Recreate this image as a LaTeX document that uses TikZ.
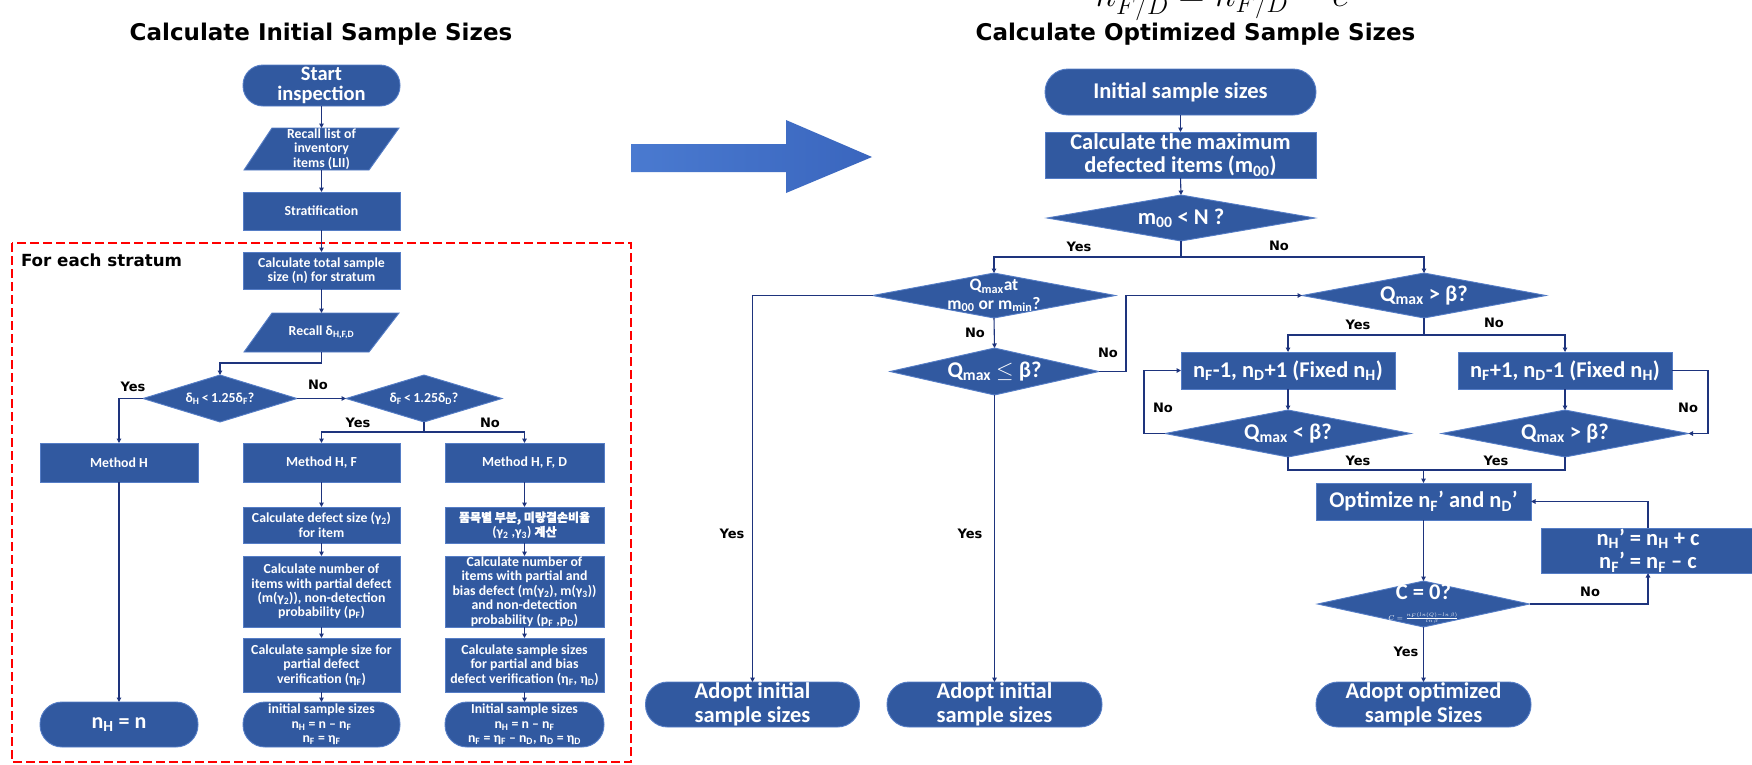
\RequirePackage{fix-cm}
\documentclass[tikz,border=0pt]{standalone}
\usepackage{fontspec}
\setmainfont{Carlito}
\newfontfamily\labfont{DejaVu Sans}
\newfontfamily\krfont[FakeBold=1.5]{Noto Sans CJK KR}
\usetikzlibrary{arrows.meta,shapes.geometric,calc}
\pgfdeclarelayer{bg}
\pgfsetlayers{bg,main}
\definecolor{boxfill}{RGB}{49,89,160}
\definecolor{boxedge}{RGB}{85,125,198}
\definecolor{conncol}{RGB}{30,52,125}
\definecolor{bigA}{RGB}{74,122,208}
\definecolor{bigB}{RGB}{58,102,190}
\newcommand{\sbs}[1]{\textsubscript{#1}}
\begin{document}
\begin{tikzpicture}[x=1pt,y=-1pt,
  every node/.style={inner sep=0pt, outer sep=0pt},
  base/.style={fill=boxfill, draw=boxedge, line width=0.9pt, text=white, align=center},
  proc/.style={base, rectangle},
  term/.style={base, rectangle, rounded corners=#1},
  term/.default=22pt,
  dec/.style={base, diamond},
  wtxt/.style={text=white, align=center},
  ptxt/.style={text=white, align=center, rectangle},
  connl/.style={draw=conncol, line width=1.1pt},
  arr/.style={connl, -{Triangle[width=4.5pt,length=4.5pt]}},
  lbl/.style={font=\labfont\bfseries\fontsize{13}{13}\selectfont, text=black},
  ttl/.style={font=\labfont\bfseries\fontsize{23}{23}\selectfont, text=black},
  fs/.style={font=\bfseries\fontsize{13.8}{14.4}\selectfont},
  fm/.style={font=\bfseries\fontsize{17.5}{18.7}\selectfont},
  fl/.style={font=\bfseries\fontsize{22.5}{23.5}\selectfont},
  parafill/.style={fill=boxfill, draw=boxedge, line width=0.9pt},
]
\useasboundingbox (0,0) rectangle (1752,764);

% ---------- left chart ----------
\node[ttl] (t1) at (321,34) {Calculate Initial Sample Sizes};
\draw[red, line width=2.4pt, dash pattern=on 9pt off 4pt] (12,243) rectangle (631,762);
\node[font=\labfont\bfseries\fontsize{16.7}{16.7}\selectfont, anchor=west] (fes) at (21,260) {For each stratum};

\node[term=20pt, minimum width=157pt, minimum height=41pt, font=\bfseries\fontsize{20.5}{20}\selectfont] (start) at (321.5,85.5) {Start\\inspection};
\node[ptxt, minimum width=155pt, minimum height=42pt, fs] (p1) at (321.5,149) {Recall list of\\inventory\\items (LII)};
\node[proc, minimum width=157pt, minimum height=38pt, fs] (strat) at (321.5,211) {Stratification};
\node[proc, minimum width=157pt, minimum height=37pt, fs] (calcn) at (321.5,270.5) {Calculate total sample\\size (n) for stratum};
\node[ptxt, minimum width=155pt, minimum height=39pt, fs] (p2) at (321.5,332.5) {Recall δ\sbs{H,F,D}};
\begin{pgfonlayer}{bg}
\fill[white] (0,0) rectangle (1752,764);
\path[parafill] (p1.south west) -- ($(p1.north west)+(28,0)$) -- (p1.north east) -- ($(p1.south east)+(-30,0)$) -- cycle;
\path[parafill] (p2.south west) -- ($(p2.north west)+(28,0)$) -- (p2.north east) -- ($(p2.south east)+(-30,0)$) -- cycle;
\end{pgfonlayer}
\node[dec, minimum width=154pt, minimum height=47pt, label={[wtxt,fs]center:{δ\sbs{H}\,<\,1.25δ\sbs{F}?}}] (d1) at (220,398.5) {};
\node[dec, minimum width=156pt, minimum height=47pt, label={[wtxt,fs]center:{δ\sbs{F}\,<\,1.25δ\sbs{D}?}}] (d2) at (424,398.5) {};

\node[proc, minimum width=158pt, minimum height=39pt, fs] (mH) at (119,462.5) {Method H};
\node[proc, minimum width=157pt, minimum height=39pt, fs] (mHF) at (321.5,462.5) {Method H, F};
\node[proc, minimum width=159pt, minimum height=39pt, fs] (mHFD) at (524.5,462.5) {Method H, F, D};

\node[proc, minimum width=157pt, minimum height=36pt, fs] (defF) at (321.5,525) {Calculate defect size (γ\sbs{2})\\for item};
\node[proc, minimum width=159pt, minimum height=36pt, fs] (defFD) at (524.5,525) {{\krfont\fontsize{12}{14.4}\selectfont 품목별 부분, 미량결손비율}\\(γ\sbs{2} ,γ\sbs{3}) {\krfont\fontsize{12}{14.4}\selectfont 계산}};
\node[proc, minimum width=157pt, minimum height=71pt, fs] (numF) at (321.5,591.5) {Calculate number of\\items with partial defect\\(m(γ\sbs{2})), non-detection\\probability (p\sbs{F})};
\node[proc, minimum width=159pt, minimum height=71pt, fs] (numFD) at (524.5,591.5) {Calculate number of\\items with partial and\\bias defect (m(γ\sbs{2}), m(γ\sbs{3}))\\and non-detection\\probability (p\sbs{F} ,p\sbs{D})};
\node[proc, minimum width=157pt, minimum height=54pt, fs] (ssF) at (321.5,665) {Calculate sample size for\\partial defect\\verification (η\sbs{F})};
\node[proc, minimum width=159pt, minimum height=54pt, fs] (ssFD) at (524.5,665) {Calculate sample sizes\\for partial and bias\\defect verification (η\sbs{F}, η\sbs{D})};
\node[term, minimum width=158pt, minimum height=45pt, font=\bfseries\fontsize{22}{22}\selectfont] (tH) at (119,724.5) {n\sbs{H} = n};
\node[term, minimum width=157pt, minimum height=45pt, fs] (tF) at (321.5,724.5) {initial sample sizes\\n\sbs{H} = n – n\sbs{F}\\n\sbs{F} = η\sbs{F}};
\node[term, minimum width=159pt, minimum height=45pt, fs] (tFD) at (524.5,724.5) {Initial sample sizes\\n\sbs{H} = n – n\sbs{F}\\n\sbs{F} = η\sbs{F} – n\sbs{D}, n\sbs{D} = η\sbs{D}};

\draw[arr] (start.south) -- (p1.north);
\draw[arr] (p1.south) -- (strat.north);
\draw[arr] (strat.south) -- (calcn.north);
\draw[arr] (calcn.south) -- (p2.north);
\draw[arr] (p2.south) -- ++(0,11) -| (d1.north);
\draw[arr] (d1.east) -- (d2.west);
\draw[arr] (d1.west) -| (mH.north);
\draw[connl] (d2.south) -- ++(0,10) coordinate (j1);
\draw[arr] (j1) -| (mHF.north);
\draw[arr] (j1) -| (mHFD.north);
\draw[arr] (mH.south) -- (tH.north);
\draw[arr] (mHF.south) -- (defF.north);
\draw[arr] (defF.south) -- (numF.north);
\draw[arr] (numF.south) -- (ssF.north);
\draw[arr] (ssF.south) -- (tF.north);
\draw[arr] (mHFD.south) -- (defFD.north);
\draw[arr] (defFD.south) -- (numFD.north);
\draw[arr] (numFD.south) -- (ssFD.north);
\draw[arr] (ssFD.south) -- (tFD.north);

\node[lbl] (l1) at (133,387) {Yes};
\node[lbl] (l2) at (318,385) {No};
\node[lbl] (l3) at (358,423) {Yes};
\node[lbl] (l4) at (490,423) {No};

% ---------- big arrow ----------
\shade[left color=bigA, right color=bigB] (631,144) -- (786,144) -- (786,120) -- (872,157) -- (786,193) -- (786,172) -- (631,172) -- cycle;

% ---------- right chart ----------
\node[anchor=base west, font=\fontsize{36}{40}\selectfont] (fml) at (1095,6) {$n'_{F/D} = n_{F/D} - c$};
\node[ttl] (t2) at (1195.5,34) {Calculate Optimized Sample Sizes};

\node[term=23pt, minimum width=271pt, minimum height=46pt, fl] (init) at (1180.5,92) {Initial sample sizes};
\node[proc, minimum width=271pt, minimum height=46pt, fl] (calcm) at (1180.5,155) {Calculate the maximum\\defected items (m\sbs{00})};
\node[dec, minimum width=268pt, minimum height=46pt, label={[wtxt,fl]center:{m\sbs{00} < N ?}}] (dm) at (1181,218) {};
\node[dec, minimum width=243pt, minimum height=45pt, label={[wtxt,fm]center:{Q\sbs{max}at\\m\sbs{00} or m\sbs{min}?}}] (dq1) at (994,295.5) {};
\node[dec, minimum width=244pt, minimum height=45pt, label={[wtxt,fl]center:{Q\sbs{max} > β?}}] (dq2) at (1424,295.5) {};
\node[dec, minimum width=209pt, minimum height=47pt, label={[wtxt,fl]center:{Q\sbs{max} $\leq$ β?}}] (dq3) at (994.5,371.5) {};
\node[term, minimum width=214pt, minimum height=45pt, fl] (adopt1) at (752.5,704.5) {Adopt initial\\sample sizes};
\node[term, minimum width=215pt, minimum height=45pt, fl] (adopt2) at (994.5,704.5) {Adopt initial\\sample sizes};
\node[proc, minimum width=214pt, minimum height=37pt, fl] (bx1) at (1288,370.5) {n\sbs{F}-1, n\sbs{D}+1 (Fixed n\sbs{H})};
\node[proc, minimum width=214pt, minimum height=37pt, fl] (bx2) at (1565,370.5) {n\sbs{F}+1, n\sbs{D}-1 (Fixed n\sbs{H})};
\node[dec, minimum width=246pt, minimum height=47pt, label={[wtxt,fl]center:{Q\sbs{max} < β?}}] (dl) at (1288,433.5) {};
\node[dec, minimum width=247pt, minimum height=47pt, label={[wtxt,fl]center:{Q\sbs{max} > β?}}] (dr) at (1565,433.5) {};
\node[proc, minimum width=215pt, minimum height=37pt, fl] (opt) at (1423.5,501.5) {Optimize n\sbs{F}’ and n\sbs{D}’};
\node[proc, minimum width=214pt, minimum height=45pt, fl] (upd) at (1648,550.5) {n\sbs{H}’ = n\sbs{H} + c\\n\sbs{F}’ = n\sbs{F} – c};
\node[dec, minimum width=212pt, minimum height=46pt, label={[wtxt,fl]center:{C = 0?\\[-3pt]{\fontsize{7}{7}\selectfont $C=\frac{n_F(ln(Q)-ln\,\beta)}{ln\,\beta}$}}}] (dc) at (1423.5,604) {};
\node[term, minimum width=215pt, minimum height=45pt, fl] (adopt3) at (1423.5,704.5) {Adopt optimized\\sample Sizes};

\draw[arr] (init.south) -- (calcm.north);
\draw[arr] (calcm.south) -- (dm.north);
\draw[connl] (dm.south) -- ++(0,16) coordinate (j2);
\draw[arr] (j2) -| (dq1.north);
\draw[arr] (j2) -| (dq2.north);
\draw[arr] (dq1.west) -| (adopt1.north);
\draw[arr] (dq1.south) -- (dq3.north);
\draw[arr] (dq3.south) -- (adopt2.north);
\draw[arr] (dq3.east) -- ++(27,0) |- (dq2.west);
\draw[connl] (dq2.south) -- ++(0,17) coordinate (j3);
\draw[arr] (j3) -| (bx1.north);
\draw[arr] (j3) -| (bx2.north);
\draw[arr] (bx1.south) -- (dl.north);
\draw[arr] (bx2.south) -- (dr.north);
\draw[arr] (dl.west) -- ++(-21,0) |- (bx1.west);
\draw[arr] (bx2.east) -- ++(36,0) |- (dr.east);
\draw[connl] (dl.south) -- ++(0,13) coordinate (j4) -| (dr.south);
\draw[arr] (j4 -| opt.north) -- (opt.north);
\draw[arr] (opt.south) -- (dc.north);
\draw[arr] (dc.east) -| (upd.south);
\draw[arr] (upd.north) |- (opt.east);
\draw[arr] (dc.south) -- (adopt3.north);

\node[lbl] (r1) at (1079,247) {Yes};
\node[lbl] (r2) at (1279,246) {No};
\node[lbl] (r3) at (975,333) {No};
\node[lbl] (r4) at (1108,353) {No};
\node[lbl] (r5) at (1358,325) {Yes};
\node[lbl] (r6) at (1494,323) {No};
\node[lbl] (r7) at (1163,408) {No};
\node[lbl] (r8) at (1688,408) {No};
\node[lbl] (r9) at (1358,461) {Yes};
\node[lbl] (r10) at (1496,461) {Yes};
\node[lbl] (r11) at (1590,592) {No};
\node[lbl] (r12) at (1406,652) {Yes};
\node[lbl] (r13) at (732,534) {Yes};
\node[lbl] (r14) at (970,534) {Yes};
\end{tikzpicture}
\end{document}
